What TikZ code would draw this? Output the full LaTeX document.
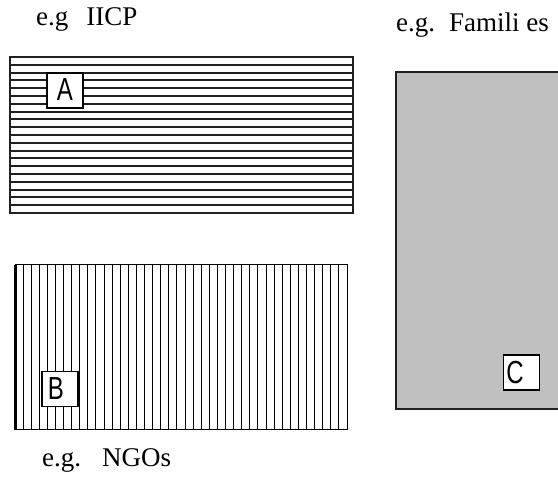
\documentclass[tikz,border=0pt]{standalone}
\usepackage{fontspec}
\setmainfont{Liberation Serif}
\newfontfamily\lettersans{Liberation Sans}
\definecolor{panelgray}{HTML}{C0C0C0}
\definecolor{edgegray}{HTML}{202020}
\begin{document}
\begin{tikzpicture}[x=1pt,y=-1pt,
  caption/.style={anchor=base west, inner sep=0pt, font=\fontsize{27}{31}\selectfont},
  tagbox/.style={draw=black, line width=1.3pt, fill=white, inner sep=0pt,
                 minimum width=36pt, minimum height=35pt},
  letter/.style={inner sep=0pt, font=\lettersans\fontsize{24}{28}\selectfont},
  hline/.style={draw=edgegray, line width=2pt},
  vline/.style={draw=black, line width=1pt},
  frameA/.style={draw=edgegray, line width=2pt},
  frameB/.style={draw=black, line width=1pt},
]
\useasboundingbox (0,0) rectangle (558,478);

% region A: horizontal hatching
\foreach \k in {1,...,19}
  \draw[hline] (10,{57+\k*7.8}) -- (353,{57+\k*7.8});
\draw[frameA] (10,57) rectangle (353,213);

% region B: vertical hatching, heavy left edge
\foreach \k in {1,...,40}
  \draw[vline] ({15+\k*8.098},265) -- ({15+\k*8.098},430);
\draw[frameB] (15,265) rectangle (347,430);
\draw[black, line width=3pt] (15.5,265) -- (15.5,430);

% region C: grey panel running off the right edge
\begin{scope}
  \clip (0,0) rectangle (558,478);
  \fill[panelgray] (396,72) rectangle (562,409);
  \draw[edgegray, line width=1.8pt] (562,72) -- (396,72) -- (396,409) -- (562,409);
\end{scope}

% letter tags
\node[tagbox] (boxA) at (65,90.5) {};
\node[letter] (lblA) at (65,89.5) {\scalebox{1}[1.33]{A}};
\node[tagbox] (boxB) at (60,389) {};
\node[letter] (lblB) at (56,388.5) {\scalebox{1}[1.33]{B}};
\node[tagbox] (boxC) at (521.5,372.5) {};
\node[letter] (lblC) at (515,372.5) {\scalebox{1}[1.33]{C}};

% captions
\node[caption] (capA) at (36,26) {e.g\hspace{18pt}IICP};
\node[caption] (capC) at (396,32) {e.g.\hspace{14pt}Famili es};
\node[caption] (capB) at (42,467) {e.g.\hspace{21pt}NGOs};
\end{tikzpicture}
\end{document}
